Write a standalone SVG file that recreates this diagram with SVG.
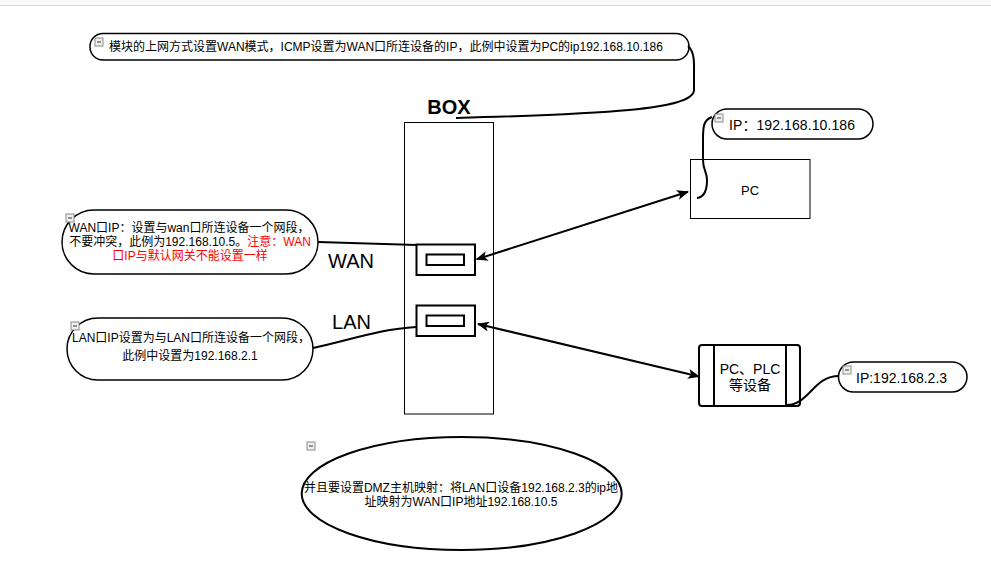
<svg xmlns="http://www.w3.org/2000/svg" width="991" height="570" viewBox="0 0 991 570">
<defs>
<style>
text{font-family:"Liberation Sans","Noto Sans CJK SC",Arial,sans-serif;fill:#000}
.t12{font-size:12px}
.t13{font-size:13px}
.t14{font-size:14px}
.mid{text-anchor:middle}
.red{fill:#ff0000}
.pill{fill:#fff;stroke:#000;stroke-width:1.5}
.wire{fill:none;stroke:#000;stroke-width:2}
.port{fill:#fff;stroke:#000;stroke-width:2}
.ico{fill:#f0f0f0;stroke:#8a8a8a;stroke-width:1}
.icol{stroke:#333;stroke-width:1}
</style>
<marker id="ah" viewBox="0 0 12 10" refX="11" refY="5" markerWidth="12" markerHeight="10" markerUnits="userSpaceOnUse" orient="auto-start-reverse">
<path d="M0,0 L12,5 L0,10 L3,5 z" fill="#000"/>
</marker>
<g id="icon"><rect class="ico" x="0" y="0" width="8" height="8"/><line class="icol" x1="2" y1="4" x2="6" y2="4"/></g>
</defs>
<rect x="0" y="0" width="991" height="570" fill="#fff"/>
<rect x="0" y="0" width="991" height="5" fill="#f9f9f9"/>
<line x1="0" y1="5.5" x2="991" y2="5.5" stroke="#d4d4d4" stroke-width="1"/>

<g id="note-top">
<rect class="pill" x="90" y="33.5" width="599" height="26.5" rx="13" ry="13"/>
<use href="#icon" x="95" y="38"/>
<text class="t12" x="109" y="51">模块的上网方式设置WAN模式，ICMP设置为WAN口所连设备的IP，此例中设置为PC的ip192.168.10.186</text>
</g>

<g id="box">
<text x="449" y="114" text-anchor="middle" style="font-size:20px;font-weight:bold">BOX</text>
<rect x="404.5" y="122.5" width="89" height="291.5" fill="none" stroke="#000" stroke-width="1"/>
</g>

<g id="wan-port">
<rect class="port" x="416.5" y="244.5" width="58.5" height="30.5"/>
<rect class="port" x="426.5" y="254.5" width="37.5" height="10.5"/>
<text x="351" y="268" text-anchor="middle" style="font-size:20px">WAN</text>
</g>

<g id="lan-port">
<rect class="port" x="416.5" y="305.5" width="58.5" height="30.5"/>
<rect class="port" x="426.5" y="315.5" width="37.5" height="10.5"/>
<text x="351.5" y="329" text-anchor="middle" style="font-size:20px">LAN</text>
</g>

<g id="note-wan">
<rect class="pill" x="62" y="210" width="256" height="64" rx="32" ry="32"/>
<use href="#icon" x="66" y="214"/>
<text class="t12 mid" x="189" y="232">WAN口IP：设置与wan口所连设备一个网段，</text>
<text class="t12 mid" x="190" y="246">不要冲突，此例为192.168.10.5。<tspan class="red">注意：WAN</tspan></text>
<text class="t12 mid red" x="190" y="260">口IP与默认网关不能设置一样</text>
</g>

<g id="note-lan">
<rect class="pill" x="67" y="318" width="246" height="62" rx="31" ry="31"/>
<use href="#icon" x="71" y="322"/>
<text class="t12 mid" x="191" y="342">LAN口IP设置为与LAN口所连设备一个网段，</text>
<text class="t12 mid" x="190" y="360">此例中设置为192.168.2.1</text>
</g>

<g id="pc">
<rect x="690.5" y="159.5" width="119.5" height="59" fill="#fff" stroke="#000" stroke-width="1"/>
<text class="t13 mid" x="750" y="195">PC</text>
</g>

<g id="note-pc-ip">
<rect class="pill" x="712" y="109" width="161" height="30" rx="15" ry="15"/>
<use href="#icon" x="715" y="114"/>
<text class="t14" x="729" y="130" textLength="126" lengthAdjust="spacing">IP：192.168.10.186</text>
</g>

<g id="plc">
<rect x="699" y="345" width="101" height="61" rx="3" ry="3" fill="#fff" stroke="#000" stroke-width="2"/>
<line x1="714" y1="345" x2="714" y2="406" stroke="#000" stroke-width="2"/>
<line x1="786" y1="345" x2="786" y2="406" stroke="#000" stroke-width="2"/>
<text class="t14 mid" x="750" y="374">PC、PLC</text>
<text class="t14 mid" x="750" y="390">等设备</text>
</g>

<g id="note-plc-ip">
<rect class="pill" x="838.5" y="362" width="128.5" height="30" rx="15" ry="15"/>
<use href="#icon" x="843" y="366"/>
<text class="t14" x="856" y="383">IP:192.168.2.3</text>
</g>

<g id="note-dmz">
<ellipse cx="461.7" cy="493.5" rx="160" ry="56.5" fill="#fff" stroke="#000" stroke-width="2"/>
<use href="#icon" x="307" y="442"/>
<text class="t12 mid" x="461" y="492">并且要设置DMZ主机映射：将LAN口设备192.168.2.3的ip地</text>
<text class="t12 mid" x="461" y="506">址映射为WAN口IP地址192.168.10.5</text>
</g>

<g id="connectors">
<path class="wire" d="M688,46 C695,52 694,64 694,75 L694,90 C694,110 600,114 456,118"/>
<path class="wire" d="M318,242 L417,245"/>
<path class="wire" d="M313,348 C350,340 380,329 416,327"/>
<path class="wire" d="M712,117 C703,120 703,128 703,140 L703,160 C703,170 707,172 707,180 C707,190 705,197 697,198"/>
<path class="wire" d="M839,376 C822,376 815,388 806,396 C800,402 795,405 787,405"/>
<line class="wire" x1="476.7" y1="259.3" x2="688" y2="191.7" marker-start="url(#ah)" marker-end="url(#ah)"/>
<line class="wire" x1="478" y1="324" x2="699" y2="376.5" marker-start="url(#ah)" marker-end="url(#ah)"/>
</g>
</svg>
